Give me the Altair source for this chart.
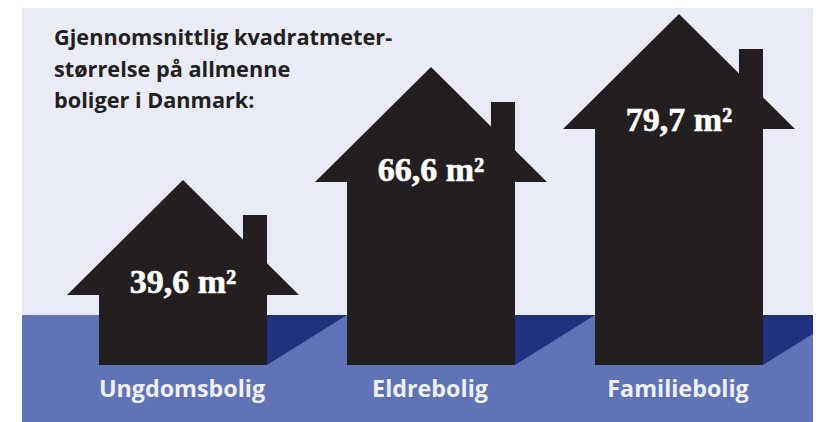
import altair as alt
import pandas as pd

categories = ["Ungdomsbolig", "Eldrebolig", "Familiebolig"]
values = [39.6, 66.6, 79.7]
value_labels = ["39,6 m²", "66,6 m²", "79,7 m²"]
title_text = "Gjennomsnittlig kvadratmeter-\nstørrelse på allmenne\nboliger i Danmark:"

BASE = 22.9
INK = "#231f20"
PALE = "#e9ebf6"
GROUND = "#6073b7"
SHADOW = "#20317f"
LABEL_DY = {"Ungdomsbolig": -2, "Eldrebolig": -1, "Familiebolig": 2}

ROOF = "M-1,0L0,-0.991L0.517,-0.478L0.517,-0.69L0.724,-0.69L0.724,-0.273L1,0Z"
CAST = "M0.724,0L0.724,-0.431L1.414,-0.431Z"
UNIT = 232 ** 2

df = pd.DataFrame({"cat": categories, "val": values, "label": value_labels, "base": [BASE] * 3})

x = alt.X("cat:N", sort=categories, axis=None,
          scale=alt.Scale(domain=categories, range=[51, 795], paddingInner=0, paddingOuter=0))
y_scale = alt.Scale(domain=[BASE, 39.6, 66.6, 79.7], range=[357, 287, 174, 121], clamp=False, nice=False, zero=False)
y_val = alt.Y("val:Q", axis=None, scale=y_scale)
y_base = alt.Y("base:Q", axis=None, scale=y_scale)

one = pd.DataFrame({"a": [0]})
panel = alt.Chart(one).mark_rect(color=PALE).encode(
    x=alt.value(14), x2=alt.value(805), y=alt.value(0), y2=alt.value(414))
ground = alt.Chart(one).mark_rect(color=GROUND).encode(
    x=alt.value(14), x2=alt.value(805), y=alt.value(307), y2=alt.value(414))

base = alt.Chart(df)
cast = base.mark_point(shape=CAST, size=UNIT, filled=True, color=SHADOW, opacity=1, strokeWidth=0).encode(x=x, y=y_base)
roof = base.mark_point(shape=ROOF, size=UNIT, filled=True, color=INK, opacity=1, strokeWidth=0).encode(x=x, y=y_val)
body = base.mark_bar(size=168, color=INK).encode(x=x, y=y_val, y2=alt.Y2("base:Q"))

value_layers = [
    alt.Chart(df[df.cat == c]).mark_text(
        font="Liberation Serif", fontWeight="bold", fontSize=34, color="white",
        stroke="white", strokeWidth=0.6,
        baseline="alphabetic", align="center", dy=LABEL_DY[c]
    ).encode(x=x, y=y_val, text="label:N")
    for c in categories
]

cat_text = base.mark_text(
    font="Open Sans", fontWeight="bold", fontSize=23.3, color="#eef0fa",
    baseline="alphabetic", align="center", dx=-1
).encode(x=x, y=alt.value(389), text="cat:N")

title = alt.Chart(pd.DataFrame({"t": [title_text]})).mark_text(
    font="Open Sans", fontWeight="bold", fontSize=21.7, color=INK,
    align="left", baseline="alphabetic", lineBreak="\n", lineHeight=31.5
).encode(x=alt.value(46), y=alt.value(37), text="t:N")

chart = alt.layer(panel, ground, cast, roof, body, *value_layers, cat_text, title).properties(
    width=805, height=414, padding=0,
    autosize=alt.AutoSizeParams(type="none"),
    background="white",
).configure_view(stroke=None)

chart.save("out.html", embed_options={"renderer": "svg", "actions": False})
